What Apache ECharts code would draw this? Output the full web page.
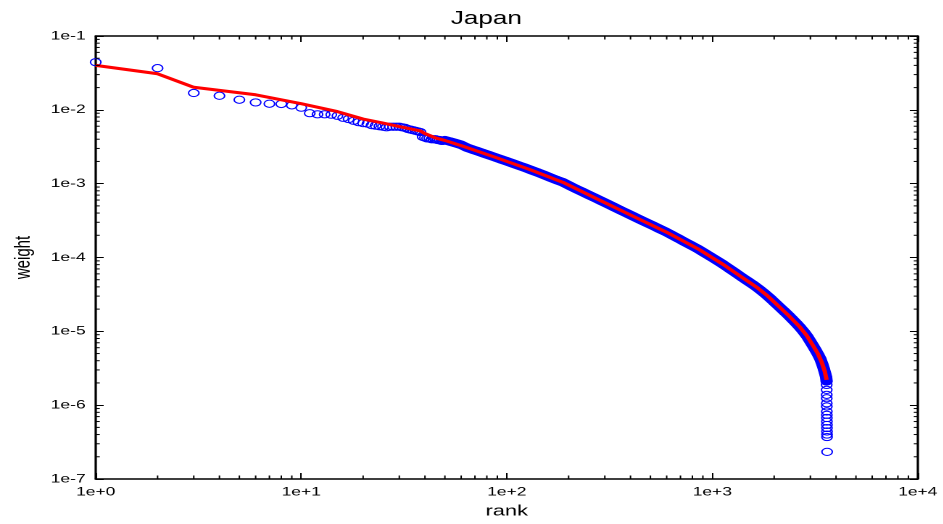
<!DOCTYPE html>
<html>
<head>
<meta charset="utf-8">
<script src="https://cdn.jsdelivr.net/npm/echarts@6/dist/echarts.min.js"></script>
<style>
  html, body { margin: 0; padding: 0; background: #fff; overflow: hidden; }
  #wrap { width: 943px; height: 524px; overflow: hidden; }
  #main { height: 524px; transform-origin: 0 0; }
</style>
</head>
<body>
<div id="wrap"><div id="main"></div></div>
<script>
// ---- data ----
const title = 'Japan';
const xName = 'rank';
const yName = 'weight';

// individually visible circles (top ranks)
const headRanks = [1,2,3,4,5,6,7,8,9,10,11,12,13,14,15,16,17,18,19,20,21,22,23,24,25,26,27,28,29,30,31,32,33,34,35,36,37,38,39,40,41,42,43,44,45,46,47,48,49];
const headWeights = [0.0442,0.0367,0.0169,0.0155,0.0137,0.0126,0.0121,0.0120,0.0115,0.0107,0.0090,0.0087,0.0087,0.0086,0.0083,0.0078,0.0075,0.0071,0.0068,0.0066,0.0065,0.0062,0.0061,0.0060,0.0059,0.0058,0.0059,0.0059,0.0059,0.0059,0.0058,0.0057,0.0055,0.0054,0.0053,0.0052,0.0051,0.0050,0.0043,0.0042,0.0041,0.0041,0.0040,0.0040,0.0040,0.0039,0.0039,0.0038,0.0038];

// dense body of the distribution
const bodyRanks = [50,53,56,60,64,68,72,77,82,88,94,100,107,115,123,132,142,152,163,175,188,202,217,233,250,268,288,310,333,358,385,414,445,478,514,552,593,637,684,735,790,849,912,980,1053,1130,1215,1300,1390,1485,1585,1690,1800,1910,2020,2130,2240,2350,2460,2570,2680,2790,2900,3000,3100,3190,3280,3360,3430,3490,3540,3580,3600];
const bodyWeights = [0.00388,0.00372,0.00356,0.00336,0.00308,0.00290,0.00275,0.00258,0.00243,0.00227,0.00213,0.00201,0.00188,0.00175,0.00164,0.00152,0.00141,0.00131,0.00121,0.00112,0.00104,0.00094,0.00085,0.000776,0.000706,0.000644,0.000585,0.000530,0.000481,0.000436,0.000396,0.000359,0.000326,0.000297,0.000270,0.000245,0.000223,0.000201,0.000181,0.000162,0.000146,0.000131,0.000116,0.000103,0.000091,0.0000805,0.0000700,0.0000617,0.0000543,0.0000480,0.0000425,0.0000373,0.0000324,0.0000281,0.0000243,0.0000212,0.0000186,0.0000164,0.0000144,0.0000127,0.0000112,0.0000098,0.0000085,0.0000073,0.0000063,0.0000055,0.0000048,0.0000042,0.0000036,0.0000031,0.0000027,0.0000024,0.0000021];

// the steep tail at the last ranks
const tailRanks = [3602,3603,3604,3605,3606,3607,3608,3609,3610,3611,3612,3613,3614,3615,3616,3620];
const tailWeights = [1.88e-6,1.61e-6,1.38e-6,1.24e-6,1.06e-6,9.6e-7,8.2e-7,7.4e-7,6.7e-7,6.0e-7,5.4e-7,4.9e-7,4.4e-7,4.0e-7,3.7e-7,2.33e-7];

// red fitted curve
const fitRanks = [1,2,3,6,10,15,20,25,30,38,40,45,50,61,89,129,188,274,410,601,869,1130,1361,1646,1842,1969,2130,2382,2665,2881,3083,3260,3409,3526,3600];
const fitWeights = [0.0400,0.0308,0.0202,0.0160,0.0121,0.00946,0.0075,0.00662,0.00594,0.00517,0.00477,0.00416,0.00385,0.00322,0.00225,0.00156,0.00104,0.000625,0.000364,0.000219,0.000127,0.0000805,0.0000565,0.0000395,0.0000308,0.0000260,0.0000212,0.0000158,0.0000115,0.00000877,0.00000649,0.00000502,0.0000038,0.00000287,0.0000022];

// axes
const xMin = 1, xMax = 10000;
const yMin = 1e-7, yMax = 1e-1;
const minorMantissas = [2,3,4,5,6,7,8,9];
const xDecades = [1,10,100,1000];
const yDecades = [1e-7,1e-6,1e-5,1e-4,1e-3,1e-2];

// ---- layout (the reference is horizontally stretched) ----
const STRETCH = 1.45;
const W = 943 / STRETCH;
const mainEl = document.getElementById('main');
mainEl.style.width = W + 'px';
mainEl.style.transform = 'scaleX(' + STRETCH + ')';

const FONT = 'Liberation Sans, Arial, Helvetica, sans-serif';
const zip = (a, b) => a.map((v, i) => [v, b[i]]);

const scatterData = zip(headRanks, headWeights)
  .concat(zip(bodyRanks, bodyWeights))
  .concat(zip(tailRanks, tailWeights));

const tickData = [];
xDecades.forEach(d => minorMantissas.forEach(m => tickData.push([m * d, yMin, 0])));
yDecades.forEach(d => minorMantissas.forEach(m => tickData.push([xMin, m * d, 1])));

function expLabel(v) {
  const e = Math.round(Math.log10(v));
  return '1e' + (e >= 0 ? '+' : '') + e;
}

const X_MAJOR = 6, X_MINOR = 3.5, Y_MAJOR = 5.5, Y_MINOR = 2.8;
const axisLine = { show: true, onZero: false, lineStyle: { color: '#000', width: 1.6 } };

const chart = echarts.init(mainEl, null, { renderer: 'canvas', devicePixelRatio: 2 });
chart.setOption({
  animation: false,
  backgroundColor: '#fff',
  title: {
    text: title, left: 479 / STRETCH, top: 5, textAlign: 'center',
    textStyle: { fontFamily: FONT, fontSize: 18, fontWeight: 'normal', color: '#000' }
  },
  grid: { left: 95.7 / STRETCH, right: (943 - 918.3) / STRETCH, top: 36, bottom: 43, containLabel: false },
  xAxis: [
    {
      type: 'log', logBase: 10, min: xMin, max: xMax, splitNumber: 4, position: 'bottom',
      axisLine: axisLine,
      axisTick: { show: true, inside: true, length: X_MAJOR, lineStyle: { color: '#000', width: 1 } },
      axisLabel: { formatter: expLabel, color: '#000', fontSize: 12, fontFamily: FONT, margin: 7, showMinLabel: true, showMaxLabel: true },
      splitLine: { show: false },
      name: xName, nameLocation: 'middle', nameGap: 25,
      nameTextStyle: { fontFamily: FONT, fontSize: 15, color: '#000' }
    },
    {
      type: 'log', logBase: 10, min: xMin, max: xMax, splitNumber: 4, position: 'top',
      axisLine: axisLine,
      axisTick: { show: true, inside: true, length: X_MAJOR, lineStyle: { color: '#000', width: 1 } },
      axisLabel: { show: false }, splitLine: { show: false }
    }
  ],
  yAxis: [
    {
      type: 'log', logBase: 10, min: yMin, max: yMax, splitNumber: 6, position: 'left',
      axisLine: axisLine,
      axisTick: { show: true, inside: true, length: Y_MAJOR, lineStyle: { color: '#000', width: 1 } },
      axisLabel: { formatter: expLabel, color: '#000', fontSize: 12, fontFamily: FONT, margin: 7, showMinLabel: true, showMaxLabel: true },
      splitLine: { show: false },
      name: yName, nameLocation: 'middle', nameGap: 41, nameRotate: 90,
      nameTextStyle: { fontFamily: FONT, fontSize: 15, color: '#000' }
    },
    {
      type: 'log', logBase: 10, min: yMin, max: yMax, splitNumber: 6, position: 'right',
      axisLine: axisLine,
      axisTick: { show: true, inside: true, length: Y_MAJOR, lineStyle: { color: '#000', width: 1 } },
      axisLabel: { show: false }, splitLine: { show: false }
    }
  ],
  series: [
    {
      name: 'band', type: 'line', z: 1, silent: true,
      data: zip(bodyRanks, bodyWeights), showSymbol: false, symbol: 'none',
      lineStyle: { color: '#0000ff', width: 8.5, cap: 'round', join: 'round' }
    },
    {
      name: 'data', type: 'scatter', z: 2, silent: true,
      data: scatterData, symbol: 'circle', symbolSize: 7.2,
      itemStyle: { color: 'rgba(0,0,0,0)', borderColor: '#0000ff', borderWidth: 1, opacity: 1 }
    },
    {
      name: 'fit', type: 'line', z: 3, silent: true,
      data: zip(fitRanks, fitWeights), showSymbol: false, symbol: 'none',
      lineStyle: { color: '#ff0000', width: 3, join: 'round' }
    },
    {
      name: 'minorTicks', type: 'custom', z: 4, silent: true,
      data: tickData, encode: { x: 0, y: 1 },
      renderItem: function (params, api) {
        const cs = params.coordSys;
        const p = api.coord([api.value(0), api.value(1)]);
        const st = { stroke: '#000', lineWidth: 1 };
        if (api.value(2) === 0) {
          const b = cs.y + cs.height, t = cs.y;
          return { type: 'group', children: [
            { type: 'line', shape: { x1: p[0], y1: b, x2: p[0], y2: b - X_MINOR }, style: st },
            { type: 'line', shape: { x1: p[0], y1: t, x2: p[0], y2: t + X_MINOR }, style: st }
          ] };
        }
        const l = cs.x, r = cs.x + cs.width;
        return { type: 'group', children: [
          { type: 'line', shape: { x1: l, y1: p[1], x2: l + Y_MINOR, y2: p[1] }, style: st },
          { type: 'line', shape: { x1: r, y1: p[1], x2: r - Y_MINOR, y2: p[1] }, style: st }
        ] };
      }
    }
  ]
});
</script>
</body>
</html>
